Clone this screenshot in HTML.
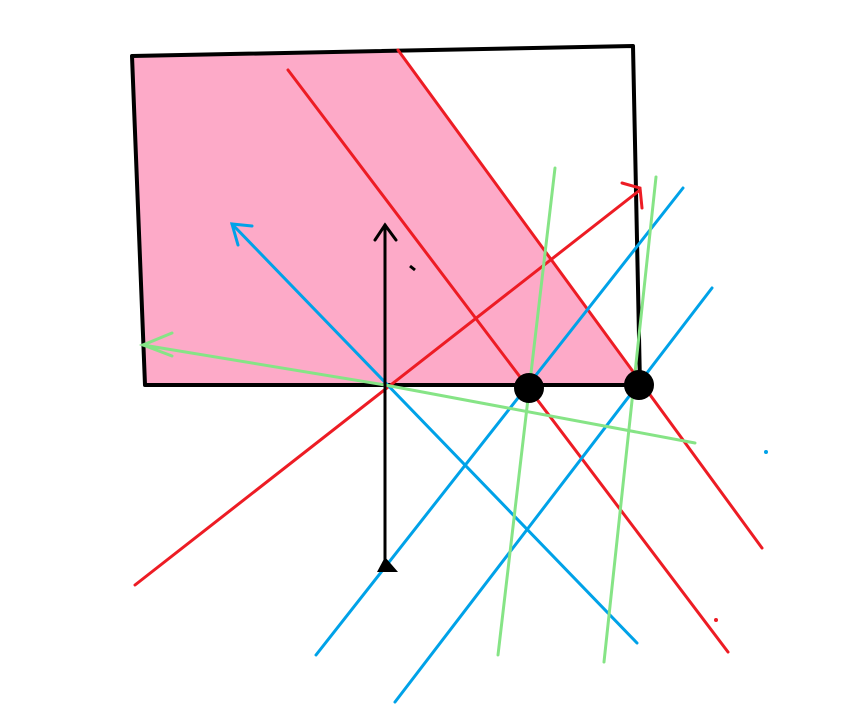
<!DOCTYPE html>
<html><head><meta charset="utf-8"><style>html,body{margin:0;padding:0;background:#fff;}svg{display:block;}</style></head>
<body>
<svg width="860" height="706" viewBox="0 0 860 706" xmlns="http://www.w3.org/2000/svg">
<polygon points="132,56 398,50 643,385 145,385" fill="#fdaac8"/>
<g fill="none" stroke="#000" stroke-width="4" stroke-linecap="round" stroke-linejoin="round">
<polygon points="132,56 633,46 640,385 145,385"/>
</g>
<g stroke="#ed1c24" stroke-width="3" stroke-linecap="round" fill="none">
<line x1="398" y1="50" x2="762" y2="548"/>
<line x1="288" y1="70" x2="728" y2="652"/>
<line x1="135" y1="585" x2="640" y2="190"/>
<polyline points="622,183 640,188 642,208"/>
</g>
<g stroke="#00a2e8" stroke-width="3" stroke-linecap="round" fill="none">
<line x1="232" y1="224" x2="637" y2="643"/>
<polyline points="252,226 232,224 238,245"/>
<line x1="316" y1="655" x2="683" y2="188"/>
<line x1="395" y1="702" x2="712" y2="288"/>
</g>
<g stroke="#86e486" stroke-width="3" stroke-linecap="round" fill="none">
<line x1="498" y1="655" x2="555" y2="168"/>
<line x1="604" y1="662" x2="656" y2="177"/>
<polyline points="143,345 385,385 695,443"/>
<polyline points="172,333 143,345 172,356"/>
</g>
<g stroke="#000" stroke-width="3" stroke-linecap="round" fill="none">
<line x1="385" y1="225" x2="385" y2="565"/>
<polyline points="375,240 385,225 396,240"/>
</g>
<polygon points="385,557 377,572 398,572" fill="#000"/>
<circle cx="529" cy="388" r="15" fill="#000"/>
<circle cx="639" cy="385" r="15" fill="#000"/>
<line x1="410" y1="266" x2="415" y2="270" stroke="#000" stroke-width="3"/>
<circle cx="766" cy="452" r="2" fill="#00a2e8"/>
<circle cx="716" cy="620" r="2" fill="#ed1c24"/>
</svg>
</body></html>
